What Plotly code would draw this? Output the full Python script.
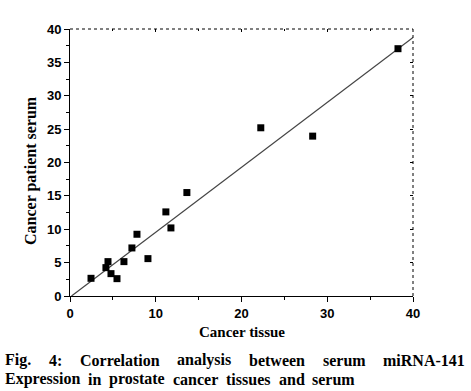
import numpy as np
import plotly.graph_objects as go

tissue = [2.45, 4.19, 4.43, 4.78, 5.48, 6.29, 7.22, 7.81, 9.09, 11.18, 11.77, 13.63, 22.25, 28.3, 38.25]
serum = [2.65, 4.25, 5.15, 3.35, 2.6, 5.15, 7.2, 9.25, 5.6, 12.6, 10.2, 15.5, 25.2, 23.95, 37.05]
x_ticks = [0, 10, 20, 30, 40]
y_ticks = [0, 5, 10, 15, 20, 25, 30, 35, 40]
x_title = "Cancer tissue"
y_title = "Cancer patient serum"
caption_line1 = ["Fig.", "4:", "Correlation", "analysis", "between", "serum", "miRNA-141"]
caption_line2 = ["Expression", "in", "prostate", "cancer", "tissues", "and", "serum"]

slope, intercept = np.polyfit(tissue, serum, 1)
fit_x = np.array([-intercept / slope if intercept < 0 else 0, 40])
fit_y = slope * fit_x + intercept

# plot area in pixels
L, R, T, B = 70, 413, 29, 296
W, H = 471, 391


def px(xp):
    return (xp - L) / (R - L)


def py(yp):
    return (B - yp) / (B - T)


fig = go.Figure()
fig.add_trace(go.Scatter(x=fit_x, y=fit_y, mode="lines",
                         line=dict(color="#444444", width=1.2), showlegend=False))
fig.add_trace(go.Scatter(x=tissue, y=serum, mode="markers",
                         marker=dict(symbol="square", size=7, color="black"),
                         showlegend=False))
fig.add_trace(go.Scatter(x=[0], y=[0], xaxis="x2", yaxis="y2", mode="markers",
                         marker=dict(opacity=0), showlegend=False, hoverinfo="skip"))

tickfont = dict(family="Liberation Sans", size=13, color="black")

fig.update_layout(
    width=W, height=H,
    margin=dict(l=L, r=W - R, t=T, b=H - B),
    plot_bgcolor="white", paper_bgcolor="white",
    xaxis=dict(range=[0, 40], tickvals=x_ticks, ticktext=[f"<b>{v}</b>" for v in x_ticks],
               ticks="outside", ticklen=5, tickwidth=1, tickcolor="black",
               showline=True, linecolor="black", linewidth=1, showgrid=False, zeroline=False,
               minor=dict(ticks="outside", dtick=5, ticklen=3, tickcolor="black"),
               tickfont=tickfont, automargin=False),
    yaxis=dict(range=[0, 40], tickvals=y_ticks, ticktext=[f"<b>{v}</b>" for v in y_ticks],
               ticks="outside", ticklen=5, tickwidth=1, tickcolor="black",
               showline=True, linecolor="black", linewidth=1, showgrid=False, zeroline=False,
               minor=dict(ticks="outside", dtick=2.5, ticklen=3, tickcolor="black"),
               tickfont=tickfont, automargin=False),
    xaxis2=dict(range=[0, 40], overlaying="x", side="top", tickvals=x_ticks,
                ticks="inside", ticklen=3, tickcolor="black", showticklabels=False,
                showgrid=False, zeroline=False, showline=False,
                minor=dict(ticks="inside", dtick=5, ticklen=2, tickcolor="black")),
    yaxis2=dict(range=[0, 40], overlaying="y", side="right", tickvals=y_ticks,
                ticks="inside", ticklen=3, tickcolor="black", showticklabels=False,
                showgrid=False, zeroline=False, showline=False),
)

fig.add_shape(type="line", xref="paper", yref="paper", x0=0, x1=1, y0=1, y1=1,
              line=dict(color="black", width=1, dash="dot"))
fig.add_shape(type="line", xref="paper", yref="paper", x0=1, x1=1, y0=0, y1=1,
              line=dict(color="black", width=1, dash="dot"))

# axis titles
fig.add_annotation(text=f"<b>{x_title}</b>", xref="paper", yref="paper",
                   x=px(242), y=py(332), xanchor="center", yanchor="middle", showarrow=False,
                   font=dict(family="Liberation Serif", size=15, color="black"))
fig.add_annotation(text=f"<b>{y_title}</b>", xref="paper", yref="paper", textangle=-90,
                   x=px(31), y=py(171), xanchor="center", yanchor="middle", showarrow=False,
                   font=dict(family="Liberation Serif", size=16, color="black"))

# caption (justified lines, word by word)
capfont = dict(family="Liberation Serif", size=16, color="black")
line1_x = [3, 47, 78, 175, 247, 321, 381]
line2_x = [3, 86, 107, 171, 224, 277, 310]
for words, xs, yp in ((caption_line1, line1_x, 360), (caption_line2, line2_x, 379)):
    for w, xp in zip(words, xs):
        fig.add_annotation(text=f"<b>{w}</b>", xref="paper", yref="paper",
                           x=px(xp), y=py(yp), xanchor="left", yanchor="middle",
                           showarrow=False, font=capfont)

fig.write_html("out.html", config={"displayModeBar": False},
               post_script="document.body.style.margin='0';document.body.style.overflow='hidden';")
